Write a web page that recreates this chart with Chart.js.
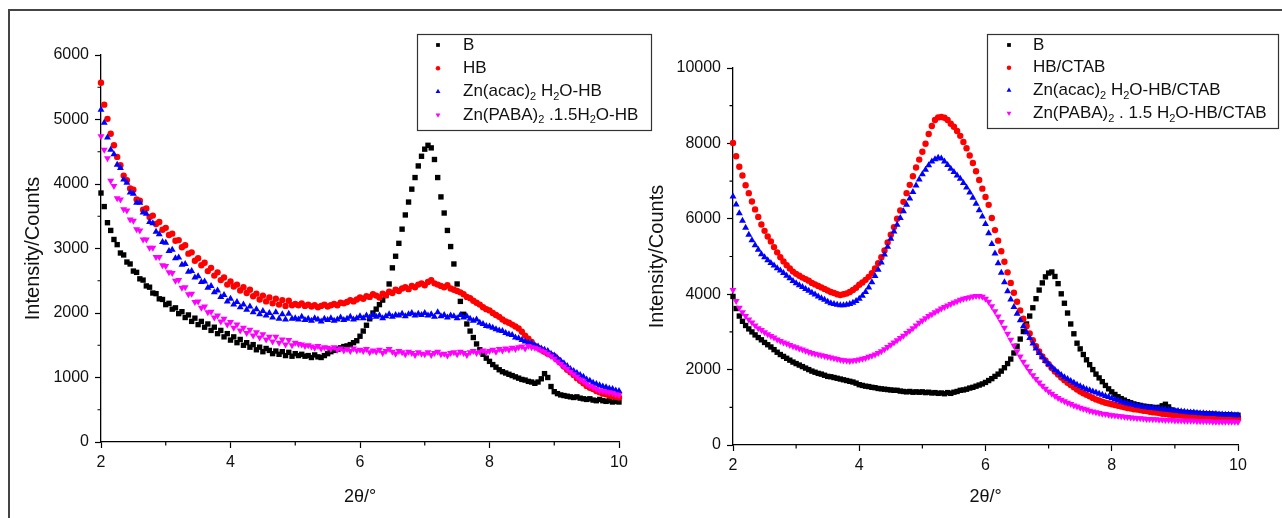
<!DOCTYPE html>
<html>
<head>
<meta charset="utf-8">
<script src="https://cdn.jsdelivr.net/npm/chart.js@4.4.1/dist/chart.umd.min.js"></script>
<style>
  html, body { margin: 0; padding: 0; background: #fff; }
  body { width: 1282px; height: 518px; position: relative; overflow: hidden; }
  #frame { position: absolute; left: 8px; top: 9px; width: 1300px; height: 530px;
           border-top: 2px solid #444; border-left: 2px solid #444; }
  canvas { position: absolute; top: 0; }
  #left { left: 0; }
  #right { left: 630px; }
</style>
</head>
<body>
<div id="frame"></div>
<canvas id="left" width="660" height="518"></canvas>
<canvas id="right" width="652" height="518"></canvas>
<script>
// 2theta grid, 2.00 .. 10.00 every 0.05 deg
const twoTheta = [];
for (let i = 0; i <= 160; i++) twoTheta.push(+(2 + i * 0.05).toFixed(2));

const leftLabels = ['B', 'HB', 'Zn(acac)_2 H_2O-HB', 'Zn(PABA)_2 .1.5H_2O-HB'];
const rightLabels = ['B', 'HB/CTAB', 'Zn(acac)_2 H_2O-HB/CTAB', 'Zn(PABA)_2 . 1.5 H_2O-HB/CTAB'];

// left panel (intensity, counts)
const leftB = [
  3860, 3650, 3400, 3280, 3140, 3060, 2930, 2900, 2790, 2760, 2650, 2630, 2530, 2510, 2420, 2400, 2310, 2300, 2220, 2210,
  2130, 2150, 2060, 2080, 1990, 2020, 1930, 1970, 1870, 1920, 1820, 1870, 1780, 1830, 1730, 1780, 1680, 1730, 1630, 1680,
  1580, 1630, 1540, 1590, 1500, 1540, 1470, 1510, 1430, 1470, 1400, 1450, 1420, 1370, 1410, 1360, 1400, 1340, 1390, 1330,
  1370, 1340, 1360, 1330, 1340, 1310, 1350, 1320, 1310, 1340, 1370, 1400, 1420, 1440, 1460, 1480, 1490, 1510, 1540, 1570,
  1640, 1720, 1810, 1910, 2000, 2060, 2130, 2200, 2270, 2450, 2700, 2880, 3080, 3300, 3520, 3720, 3920, 4100, 4280, 4430,
  4540, 4600, 4560, 4380, 4100, 3800, 3550, 3280, 3030, 2760, 2450, 2180, 1980, 1830, 1720, 1620, 1520, 1430, 1360, 1300,
  1250, 1200, 1160, 1120, 1090, 1070, 1050, 1030, 1010, 990, 970, 960, 940, 930, 910, 930, 980, 1060, 1000, 860,
  780, 750, 730, 720, 710, 700, 690, 700, 680, 670, 660, 670, 650, 640, 660, 640, 630, 640, 620, 630,
  620
];
const leftHB = [
  5570, 5230, 5010, 4780, 4600, 4420, 4290, 4130, 4060, 3930, 3910, 3760, 3740, 3600, 3620, 3490, 3510, 3380, 3410, 3290,
  3320, 3210, 3230, 3120, 3130, 3020, 3050, 2920, 2940, 2810, 2850, 2740, 2780, 2650, 2700, 2580, 2630, 2510, 2550, 2440,
  2490, 2410, 2440, 2350, 2400, 2310, 2360, 2260, 2300, 2210, 2270, 2180, 2240, 2150, 2220, 2130, 2200, 2110, 2190, 2120,
  2140, 2120, 2150, 2110, 2130, 2100, 2120, 2090, 2110, 2130, 2100, 2120, 2140, 2120, 2160, 2150, 2170, 2200, 2180, 2210,
  2240, 2220, 2260, 2250, 2290, 2270, 2240, 2300, 2280, 2330, 2310, 2360, 2340, 2380, 2400, 2370, 2420, 2400, 2440, 2460,
  2430, 2480, 2510, 2460, 2440, 2420, 2400, 2430, 2380, 2360, 2340, 2320, 2290, 2250, 2230, 2190, 2160, 2130, 2090, 2060,
  2040, 2000, 1970, 1940, 1900, 1870, 1850, 1820, 1790, 1760, 1710, 1650, 1600, 1550, 1490, 1460, 1430, 1400, 1370, 1350,
  1330, 1280, 1230, 1170, 1120, 1080, 1040, 990, 950, 910, 870, 840, 820, 790, 770, 750, 740, 720, 710, 700,
  690
];
const leftAcac = [
  5150, 4950, 4720, 4530, 4460, 4300, 4250, 4070, 4020, 3870, 3850, 3710, 3710, 3560, 3540, 3410, 3390, 3260, 3220, 3100,
  3090, 2960, 2980, 2850, 2860, 2750, 2760, 2640, 2650, 2550, 2570, 2480, 2490, 2390, 2420, 2320, 2350, 2250, 2280, 2180,
  2220, 2130, 2170, 2090, 2130, 2050, 2100, 2010, 2060, 1980, 2030, 1960, 2000, 1930, 2010, 1910, 1980, 1900, 1990, 1910,
  1920, 1900, 1940, 1890, 1910, 1880, 1920, 1900, 1870, 1910, 1890, 1920, 1880, 1900, 1930, 1890, 1910, 1940, 1900, 1920,
  1950, 1920, 1960, 1930, 1970, 1940, 1960, 1920, 1950, 1980, 1940, 1970, 1960, 1990, 1950, 1980, 2000, 1960, 1990, 1970,
  2000, 1960, 1980, 1940, 2010, 1950, 1970, 1930, 1960, 1950, 1920, 1970, 1930, 1950, 1910, 1880, 1900, 1850, 1830, 1800,
  1790, 1770, 1750, 1730, 1720, 1690, 1670, 1660, 1620, 1610, 1580, 1560, 1540, 1530, 1500, 1480, 1450, 1430, 1410, 1370,
  1340, 1300, 1260, 1220, 1180, 1130, 1100, 1070, 1040, 1010, 970, 950, 920, 900, 880, 860, 850, 830, 820, 800,
  790
];
const leftPaba = [
  4740, 4530, 4400, 4050, 3970, 3780, 3760, 3610, 3590, 3450, 3430, 3300, 3280, 3140, 3140, 3010, 3010, 2870, 2870, 2740,
  2730, 2630, 2620, 2500, 2510, 2390, 2400, 2290, 2300, 2170, 2180, 2080, 2100, 2010, 2020, 1930, 1960, 1870, 1910, 1820,
  1860, 1770, 1820, 1730, 1770, 1690, 1740, 1650, 1700, 1620, 1670, 1590, 1630, 1560, 1630, 1540, 1590, 1510, 1580, 1500,
  1540, 1520, 1510, 1490, 1500, 1480, 1460, 1490, 1450, 1470, 1460, 1440, 1470, 1430, 1450, 1420, 1440, 1410, 1450, 1420,
  1430, 1410, 1440, 1390, 1420, 1400, 1430, 1380, 1410, 1440, 1400, 1370, 1410, 1390, 1360, 1400, 1380, 1350, 1390, 1370,
  1360, 1390, 1350, 1380, 1400, 1360, 1370, 1340, 1380, 1390, 1360, 1400, 1380, 1350, 1390, 1410, 1380, 1400, 1420, 1390,
  1410, 1430, 1400, 1440, 1420, 1450, 1430, 1460, 1440, 1470, 1480, 1450, 1490, 1470, 1460, 1440, 1420, 1400, 1370, 1330,
  1290, 1250, 1210, 1170, 1130, 1090, 1050, 1010, 970, 940, 900, 870, 850, 820, 800, 790, 780, 770, 760, 740,
  730
];

// right panel (intensity, counts)
const rightB = [
  3940, 3620, 3420, 3280, 3170, 3080, 3000, 2920, 2850, 2790, 2720, 2660, 2600, 2530, 2460, 2400, 2350, 2300, 2250, 2200,
  2160, 2120, 2080, 2040, 2000, 1960, 1930, 1900, 1880, 1850, 1820, 1810, 1790, 1770, 1750, 1730, 1710, 1690, 1670, 1640,
  1600, 1580, 1560, 1550, 1530, 1520, 1500, 1490, 1480, 1470, 1460, 1450, 1450, 1430, 1420, 1410, 1420, 1400, 1410, 1400,
  1410, 1390, 1400, 1380, 1390, 1370, 1380, 1360, 1390, 1370, 1400, 1420, 1450, 1460, 1480, 1510, 1530, 1560, 1590, 1620,
  1660, 1710, 1760, 1820, 1880, 1960, 2050, 2160, 2280, 2440, 2620, 2810, 3010, 3210, 3420, 3640, 3880, 4110, 4300, 4460,
  4560, 4590, 4470, 4280, 4010, 3760, 3500, 3210, 2950, 2700, 2550, 2400, 2260, 2130, 2000, 1880, 1780, 1680, 1580, 1490,
  1410, 1340, 1280, 1230, 1190, 1150, 1120, 1090, 1070, 1050, 1030, 1020, 1010, 1000, 990, 1000, 1040, 1080, 1010, 930,
  900, 880, 870, 860, 860, 850, 840, 840, 830, 830, 820, 820, 820, 810, 810, 800, 800, 800, 790, 790,
  790
];
const rightHB = [
  8010, 7660, 7380, 7150, 6890, 6680, 6460, 6250, 6050, 5850, 5680, 5530, 5400, 5250, 5110, 4980, 4870, 4770, 4680, 4600,
  4540, 4490, 4440, 4400, 4360, 4300, 4260, 4220, 4180, 4140, 4100, 4060, 4030, 4000, 3980, 4000, 4020, 4060, 4110, 4170,
  4250, 4310, 4380, 4460, 4560, 4680, 4820, 4980, 5160, 5370, 5580, 5780, 6000, 6220, 6450, 6680, 6900, 7130, 7360, 7570,
  7780, 7990, 8250, 8460, 8620, 8690, 8700, 8680, 8620, 8520, 8440, 8330, 8200, 8040, 7870, 7680, 7480, 7260, 7030, 6800,
  6580, 6370, 6020, 5700, 5420, 5140, 4860, 4580, 4300, 4040, 3800, 3570, 3350, 3150, 2960, 2780, 2620, 2480, 2350, 2240,
  2140, 2040, 1950, 1870, 1790, 1720, 1650, 1590, 1530, 1470, 1420, 1370, 1330, 1290, 1250, 1210, 1180, 1150, 1120, 1100,
  1080, 1060, 1040, 1020, 1000, 980, 970, 950, 940, 930, 910, 900, 880, 870, 860, 850, 830, 820, 810, 800,
  790, 790, 780, 770, 770, 760, 760, 750, 750, 740, 740, 730, 730, 730, 720, 720, 720, 710, 710, 710,
  700
];
const rightAcac = [
  6590, 6380, 6150, 5950, 5760, 5580, 5430, 5300, 5180, 5060, 4980, 4900, 4830, 4760, 4690, 4630, 4560, 4490, 4420, 4350,
  4290, 4240, 4190, 4140, 4090, 4040, 3990, 3940, 3890, 3850, 3800, 3760, 3740, 3720, 3710, 3710, 3720, 3740, 3770, 3820,
  3880, 3960, 4060, 4180, 4320, 4480, 4650, 4840, 5050, 5260, 5470, 5660, 5840, 6020, 6200, 6370, 6540, 6710, 6880, 7040,
  7180, 7300, 7420, 7520, 7580, 7620, 7600, 7520, 7430, 7330, 7240, 7150, 7060, 6950, 6830, 6700, 6560, 6400, 6230, 6060,
  5860, 5620, 5330, 5080, 4820, 4570, 4320, 4080, 3860, 3660, 3480, 3310, 3150, 2990, 2840, 2690, 2560, 2440, 2330, 2230,
  2140, 2060, 1990, 1920, 1860, 1800, 1750, 1700, 1650, 1600, 1560, 1520, 1480, 1450, 1420, 1390, 1360, 1330, 1300, 1270,
  1240, 1210, 1180, 1150, 1120, 1100, 1080, 1060, 1040, 1030, 1010, 1000, 990, 980, 970, 960, 950, 940, 930, 920,
  910, 900, 890, 880, 870, 860, 860, 850, 840, 840, 830, 830, 820, 820, 810, 810, 800, 800, 800, 790,
  790
];
const rightPaba = [
  4110, 3820, 3640, 3520, 3420, 3330, 3250, 3170, 3100, 3050, 2990, 2940, 2890, 2850, 2800, 2760, 2720, 2690, 2650, 2620,
  2590, 2560, 2530, 2500, 2470, 2440, 2420, 2400, 2380, 2360, 2340, 2320, 2300, 2280, 2260, 2250, 2240, 2230, 2240, 2250,
  2270, 2290, 2310, 2340, 2370, 2400, 2440, 2490, 2540, 2600, 2660, 2720, 2780, 2840, 2900, 2970, 3030, 3100, 3170, 3240,
  3300, 3360, 3420, 3470, 3520, 3570, 3620, 3660, 3700, 3740, 3780, 3810, 3850, 3880, 3900, 3920, 3940, 3950, 3950, 3930,
  3880, 3800, 3680, 3550, 3410, 3260, 3110, 2950, 2790, 2640, 2490, 2350, 2210, 2080, 1960, 1850, 1750, 1660, 1570, 1490,
  1420, 1360, 1300, 1250, 1200, 1160, 1120, 1090, 1050, 1020, 990, 960, 940, 910, 890, 870, 850, 830, 820, 800,
  790, 780, 770, 760, 750, 740, 730, 720, 710, 710, 700, 690, 690, 680, 680, 670, 670, 660, 660, 660,
  650, 650, 650, 640, 640, 640, 640, 630, 630, 630, 630, 630, 620, 620, 620, 620, 620, 620, 620, 620,
  610
];

const FONT = "'Liberation Sans', Arial, sans-serif";
const colors = ['#000000', '#ff0000', '#0000ff', '#ff00ff'];
const shapes = ['rect', 'circle', 'triangle', 'triangle'];
const rotations = [0, 0, 0, 180];
const radii = [3.8, 3.2, 4.0, 4.0];

// short minor ticks between the labelled ones
const minorTicks = {
  id: 'minorTicks',
  afterDraw(chart, args, o) {
    const ctx = chart.ctx;
    const sx = chart.scales.x, sy = chart.scales.y;
    ctx.save();
    ctx.strokeStyle = '#000';
    ctx.lineWidth = 1.2;
    ctx.beginPath();
    sx.ticks.forEach(t => {
      if (t.value % 2 !== 0) {
        const p = sx.getPixelForValue(t.value);
        ctx.moveTo(p, sx.top); ctx.lineTo(p, sx.top + o.len);
      }
    });
    sy.ticks.forEach(t => {
      if (t.value % o.yMajor !== 0) {
        const p = sy.getPixelForValue(t.value);
        ctx.moveTo(sy.right, p); ctx.lineTo(sy.right - o.len, p);
      }
    });
    ctx.stroke();
    ctx.restore();
  }
};

// draw "_2" as a subscript
function drawRich(ctx, text, x, y, size) {
  const parts = text.split(/(_\d)/).filter(s => s.length);
  parts.forEach(p => {
    if (p[0] === '_') {
      ctx.font = Math.round(size * 0.62) + 'px ' + FONT;
      ctx.fillText(p.slice(1), x, y + size * 0.32);
      x += ctx.measureText(p.slice(1)).width;
    } else {
      ctx.font = size + 'px ' + FONT;
      ctx.fillText(p, x, y);
      x += ctx.measureText(p).width;
    }
  });
}

// framed legend box like the original
const boxLegend = {
  id: 'boxLegend',
  afterDraw(chart, args, o) {
    const ctx = chart.ctx;
    ctx.save();
    ctx.fillStyle = '#fff';
    ctx.fillRect(o.x, o.y, o.w, o.h);
    ctx.strokeStyle = '#333';
    ctx.lineWidth = 1.2;
    ctx.strokeRect(o.x + 0.5, o.y + 0.5, o.w, o.h);
    ctx.textBaseline = 'middle';
    chart.data.datasets.forEach((ds, i) => {
      const cy = o.y + o.first + i * o.gap;
      ctx.fillStyle = ds.backgroundColor;
      Chart.helpers.drawPoint(ctx, {
        pointStyle: ds.pointStyle, rotation: ds.pointRotation, radius: ds.pointRadius * 0.7, borderWidth: 0
      }, o.x + o.markX, cy);
      ctx.fillStyle = '#111';
      drawRich(ctx, ds.label, o.x + o.textX, cy, o.size);
    });
    ctx.restore();
  }
};

function makeChart(id, series, labels, yMax, yStep, yMajor, box, pad, yWidth, xHeight, yTitlePad) {
  const datasets = series.map((vals, i) => ({
    label: labels[i],
    data: twoTheta.map((x, j) => ({ x: x, y: vals[j] })),
    showLine: false,
    pointStyle: shapes[i],
    pointRotation: rotations[i],
    pointRadius: radii[i],
    pointBorderWidth: 0,
    backgroundColor: colors[i],
    borderColor: colors[i],
    order: 3 - i,
    clip: false
  }));
  const tickFont = { family: FONT, size: 16 };
  return new Chart(document.getElementById(id), {
    type: 'scatter',
    data: { datasets },
    plugins: [minorTicks, boxLegend],
    options: {
      responsive: false,
      animation: false,
      events: [],
      layout: { padding: pad },
      plugins: {
        legend: { display: false },
        tooltip: { enabled: false },
        minorTicks: { len: 3.5, yMajor: yMajor },
        boxLegend: box
      },
      scales: {
        x: {
          type: 'linear', min: 2, max: 10,
          afterFit: s => { s.height = xHeight; },
          border: { display: true, color: '#000', width: 1.3 },
          grid: {
            drawOnChartArea: false, tickLength: 6, tickWidth: 1.2,
            tickColor: c => (c.tick && c.tick.value % 2 === 0) ? '#000' : 'rgba(0,0,0,0)'
          },
          ticks: {
            stepSize: 1, autoSkip: false, maxRotation: 0, padding: 5, color: '#111', font: tickFont,
            callback: v => (v % 2 === 0 ? String(v) : '')
          },
          title: { display: true, text: '2θ/°', color: '#111', font: { family: FONT, size: 18 }, padding: { top: 0, bottom: 10 } }
        },
        y: {
          type: 'linear', min: 0, max: yMax,
          afterFit: s => { s.width = yWidth; },
          border: { display: true, color: '#000', width: 1.3 },
          grid: {
            drawOnChartArea: false, tickLength: 6, tickWidth: 1.2,
            tickColor: c => (c.tick && c.tick.value % yMajor === 0) ? '#000' : 'rgba(0,0,0,0)'
          },
          ticks: {
            stepSize: yStep, autoSkip: false, padding: 6, color: '#111', font: tickFont,
            callback: v => (v % yMajor === 0 ? String(v) : '')
          },
          title: { display: true, text: 'Intensity/Counts', color: '#111', font: { family: FONT, size: 20 }, padding: { top: yTitlePad, bottom: 0 } }
        }
      }
    }
  });
}

makeChart('left', [leftB, leftHB, leftAcac, leftPaba], leftLabels, 6000, 500, 1000,
  { x: 417, y: 34, w: 234, h: 96, markX: 21, textX: 46, first: 11, gap: 23.3, size: 17 },
  { left: 0, right: 41, top: 55, bottom: 0 }, 101, 76, 21);

makeChart('right', [rightB, rightHB, rightAcac, rightPaba], rightLabels, 10000, 1000, 2000,
  { x: 357, y: 34, w: 291, h: 94, markX: 22, textX: 46, first: 11, gap: 22.7, size: 17 },
  { left: 0, right: 44, top: 68, bottom: 0 }, 103, 73, 15);
</script>
</body>
</html>
